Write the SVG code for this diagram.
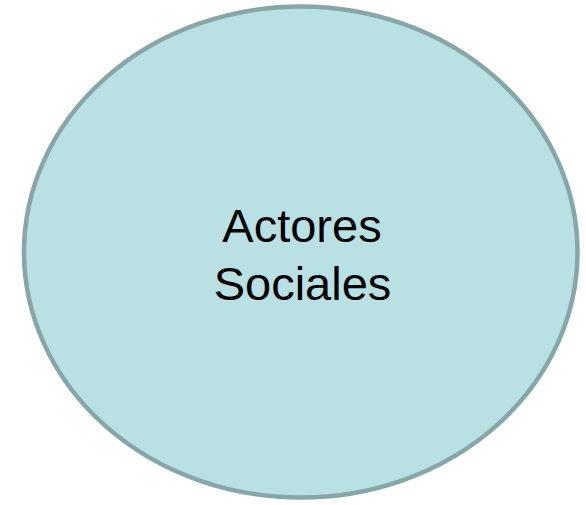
<svg xmlns="http://www.w3.org/2000/svg" width="586" height="505" viewBox="0 0 586 505">
<style>
.node-shape{fill:#b9e0e3;stroke:#87a6a8;stroke-width:4.5}
.label{font-family:"Liberation Sans",Arial,sans-serif;font-size:47px;fill:#000;text-anchor:middle}
</style>
<rect width="586" height="505" fill="#ffffff"/>
<g id="connectors"></g>
<g id="node-actores-sociales">
<ellipse class="node-shape" cx="300.75" cy="252" rx="276.75" ry="245.5"/>
<text class="label" x="302" y="242">Actores</text>
<text class="label" x="302.5" y="300">Sociales</text>
</g>
</svg>
